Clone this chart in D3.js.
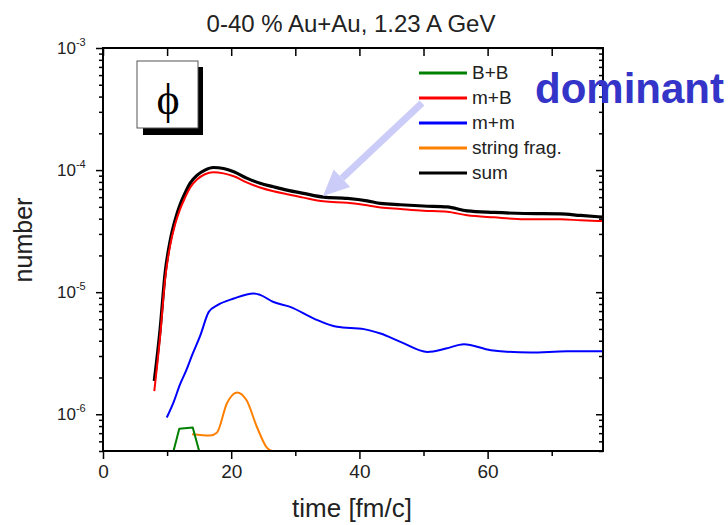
<!DOCTYPE html>
<meta charset="utf-8">
<script src="https://d3js.org/d3.v7.min.js"></script>
<style>
  body { margin: 0; background: #fff; }
  text { font-family: "Liberation Sans", Arial, sans-serif; }
</style>
<div id="chart"></div>
<script>

// ---- data ----
var tSum = [8.0, 8.9, 9.7, 10.5, 11.25, 12.0, 12.8, 13.6, 14.7, 15.9, 17.2, 18.8, 20.4, 22.5, 24.5, 26.6, 28.7, 31.3, 34.4, 38.1, 41.2, 43.3, 46.4, 50, 53.7, 56.8, 61, 65.7, 71.4, 74.5, 78]
var sum  = [1.87e-6, 4.9e-6, 1.45e-5, 2.67e-5, 3.89e-5, 5.16e-5, 6.47e-5, 7.82e-5, 9.1e-5, 1.0e-4, 1.05e-4, 1.03e-4, 9.7e-5, 8.55e-5, 7.8e-5, 7.3e-5, 6.86e-5, 6.44e-5, 6.0e-5, 5.86e-5, 5.6e-5, 5.33e-5, 5.2e-5, 5.08e-5, 5.0e-5, 4.63e-5, 4.5e-5, 4.41e-5, 4.38e-5, 4.25e-5, 4.12e-5]

var tMB = tSum
var mB  = [1.55e-6, 4.3e-6, 1.3e-5, 2.45e-5, 3.6e-5, 4.75e-5, 5.95e-5, 7.2e-5, 8.4e-5, 9.25e-5, 9.6e-5, 9.4e-5, 8.9e-5, 7.9e-5, 7.2e-5, 6.7e-5, 6.35e-5, 5.95e-5, 5.55e-5, 5.4e-5, 5.15e-5, 4.94e-5, 4.8e-5, 4.65e-5, 4.55e-5, 4.27e-5, 4.1e-5, 3.96e-5, 3.95e-5, 3.88e-5, 3.82e-5]

var tMM = [9.95, 11.0, 12.0, 13.0, 13.9, 15.2, 16.5, 17.8, 20.4, 23.5, 24.5, 26.6, 29.2, 32.9, 36.5, 40.7, 43.3, 46.5, 50.6, 53.5, 56.3, 60.5, 66.7, 72.4, 78]
var mm  = [9.4e-7, 1.25e-6, 1.75e-6, 2.3e-6, 3.05e-6, 4.45e-6, 6.9e-6, 7.8e-6, 8.87e-6, 9.75e-6, 9.5e-6, 8.3e-6, 7.58e-6, 6.08e-6, 5.2e-6, 4.98e-6, 4.58e-6, 3.9e-6, 3.24e-6, 3.45e-6, 3.75e-6, 3.35e-6, 3.2e-6, 3.28e-6, 3.28e-6]

var tBB = [11.0, 11.9, 14.0, 15.0]
var bb  = [5.0e-7, 7.6e-7, 7.8e-7, 5.0e-7]

var tStr = [13.9, 16.7, 17.8, 19.3, 20.9, 22.4, 24.0, 25.6, 26.4, 40, 60, 78]
var str  = [6.86e-7, 6.7e-7, 7.1e-7, 1.22e-6, 1.51e-6, 1.3e-6, 7.9e-7, 5.3e-7, 5.0e-7, 5.0e-7, 5.0e-7, 5.0e-7]

var legendNames  = ["B+B", "m+B", "m+m", "string frag.", "sum"]
var legendColors = ["#008000", "#ff0000", "#0000ff", "#ff8000", "#000000"]

var xMajor = [0, 20, 40, 60]
var xMinor = [10, 30, 50, 70]
var yMajor = [1e-6, 1e-5, 1e-4, 1e-3]

// ---- svg ----
var width = 728, height = 525
var svg = d3.select("#chart").append("svg")
    .attr("width", width)
    .attr("height", height)

var x0 = 103, x1 = 603, y0 = 48, y1 = 451

var x = d3.scaleLinear().domain([0, 78]).range([x0, x1])
var y = d3.scaleLog().domain([5e-7, 1e-3]).range([y1, y0])

var yMinor = []
yMajor.forEach(function(d) {
  for (var k = 2; k <= 9; k++) { if (d * k < 1e-3) yMinor.push(d * k) }
})
yMinor.push(5e-7, 6e-7, 7e-7, 8e-7, 9e-7)

svg.append("clipPath").attr("id", "clip")
  .append("rect").attr("x", x0).attr("y", y0).attr("width", x1 - x0).attr("height", y1 - y0)

// ---- phi box ----
svg.append("rect").attr("x", 143).attr("y", 67).attr("width", 60).attr("height", 68).attr("fill", "#000")
svg.append("rect").attr("x", 137).attr("y", 61).attr("width", 61).attr("height", 67)
    .attr("fill", "#fff").attr("stroke", "#555").attr("stroke-width", 1)
svg.append("text").attr("x", 168).attr("y", 114).attr("text-anchor", "middle")
    .style("font-family", "'Liberation Serif', 'DejaVu Serif', serif")
    .style("font-size", "44px").text("\u03D5")

// ---- curves ----
var g = svg.append("g").attr("clip-path", "url(#clip)")

function addLine(ts, vs, color, w, curve) {
  var line = d3.line()
      .x(function(d, i) { return x(ts[i]) })
      .y(function(d) { return y(d) })
      .curve(curve)
  g.append("path")
      .datum(vs)
      .attr("d", line)
      .attr("fill", "none")
      .attr("stroke", color)
      .attr("stroke-width", w)
      .attr("stroke-linejoin", "round")
}

addLine(tStr, str, "#ff8000", 2, d3.curveMonotoneX)
addLine(tBB, bb, "#008000", 2, d3.curveLinear)
addLine(tMM, mm, "#0000ff", 2, d3.curveMonotoneX)
addLine(tSum, sum, "#000000", 3.2, d3.curveMonotoneX)
addLine(tMB, mB, "#ff0000", 2, d3.curveMonotoneX)

// ---- axes ----
function styleAxis(sel) {
  sel.select(".domain").remove()
  sel.selectAll("line").attr("stroke", "#000").attr("stroke-width", 1.5)
}

svg.append("g").attr("transform", "translate(0," + y1 + ")")
    .call(d3.axisBottom(x).tickValues(xMajor).tickSize(8).tickPadding(6))
    .call(styleAxis)
    .selectAll("text").style("font-size", "19px").attr("fill", "#222")
svg.append("g").attr("transform", "translate(0," + y1 + ")")
    .call(d3.axisBottom(x).tickValues(xMinor).tickSize(5).tickFormat(""))
    .call(styleAxis)
svg.append("g").attr("transform", "translate(0," + y0 + ")")
    .call(d3.axisBottom(x).tickValues(xMajor.concat(xMinor)).tickSize(8).tickFormat(""))
    .call(styleAxis)

svg.append("g").attr("transform", "translate(" + x0 + ",0)")
    .call(d3.axisLeft(y).tickValues(yMajor).tickSize(7).tickFormat(""))
    .call(styleAxis)
svg.append("g").attr("transform", "translate(" + x0 + ",0)")
    .call(d3.axisLeft(y).tickValues(yMinor).tickSize(4).tickFormat(""))
    .call(styleAxis)
svg.append("g").attr("transform", "translate(" + x1 + ",0)")
    .call(d3.axisLeft(y).tickValues(yMajor).tickSize(7).tickFormat(""))
    .call(styleAxis)
svg.append("g").attr("transform", "translate(" + x1 + ",0)")
    .call(d3.axisLeft(y).tickValues(yMinor).tickSize(4).tickFormat(""))
    .call(styleAxis)

// frame
svg.append("rect").attr("x", x0).attr("y", y0).attr("width", x1 - x0).attr("height", y1 - y0)
    .attr("fill", "none").attr("stroke", "#000").attr("stroke-width", 2)

// y tick labels 10^n
yMajor.forEach(function(d) {
  var t = svg.append("text").attr("x", 57).attr("y", y(d) + 6)
      .style("font-size", "17px").attr("fill", "#222")
  t.append("tspan").text("10")
  t.append("tspan").attr("dy", -8).style("font-size", "11px").text(Math.round(Math.log10(d)))
})

// ---- legend ----
legendNames.forEach(function(name, i) {
  var ly = 73 + i * 25
  svg.append("line").attr("x1", 419).attr("x2", 467).attr("y1", ly).attr("y2", ly)
      .attr("stroke", legendColors[i]).attr("stroke-width", 3)
  svg.append("text").attr("x", 472).attr("y", ly + 6)
      .style("font-size", "19px").attr("fill", "#222").text(name)
})

// ---- arrow ----
var ax0 = 422, ay0 = 103, ax1 = 323, ay1 = 196
var ang = Math.atan2(ay1 - ay0, ax1 - ax0)
var headLen = 26, headW = 12
var bx = ax1 - headLen * Math.cos(ang), by = ay1 - headLen * Math.sin(ang)
svg.append("line").attr("x1", ax0).attr("y1", ay0).attr("x2", bx).attr("y2", by)
    .attr("stroke", "#ccccf8").attr("stroke-width", 7)
svg.append("path")
    .attr("d", "M" + ax1 + "," + ay1 +
      "L" + (bx + headW * Math.sin(ang)) + "," + (by - headW * Math.cos(ang)) +
      "L" + (bx - headW * Math.sin(ang)) + "," + (by + headW * Math.cos(ang)) + "Z")
    .attr("fill", "#ccccf8")

// ---- texts ----
svg.append("text").attr("x", 535).attr("y", 103)
    .style("font-size", "42px").style("font-weight", "bold").attr("fill", "#3434c8")
    .text("dominant")

svg.append("text").attr("x", 351).attr("y", 32).attr("text-anchor", "middle")
    .style("font-size", "24px").attr("fill", "#222").text("0-40 % Au+Au, 1.23 A GeV")

svg.append("text").attr("transform", "translate(32,240) rotate(-90)").attr("text-anchor", "middle")
    .style("font-size", "25px").attr("fill", "#222").text("number")

svg.append("text").attr("x", 352).attr("y", 517).attr("text-anchor", "middle")
    .style("font-size", "26px").attr("fill", "#222").text("time [fm/c]")

</script>
